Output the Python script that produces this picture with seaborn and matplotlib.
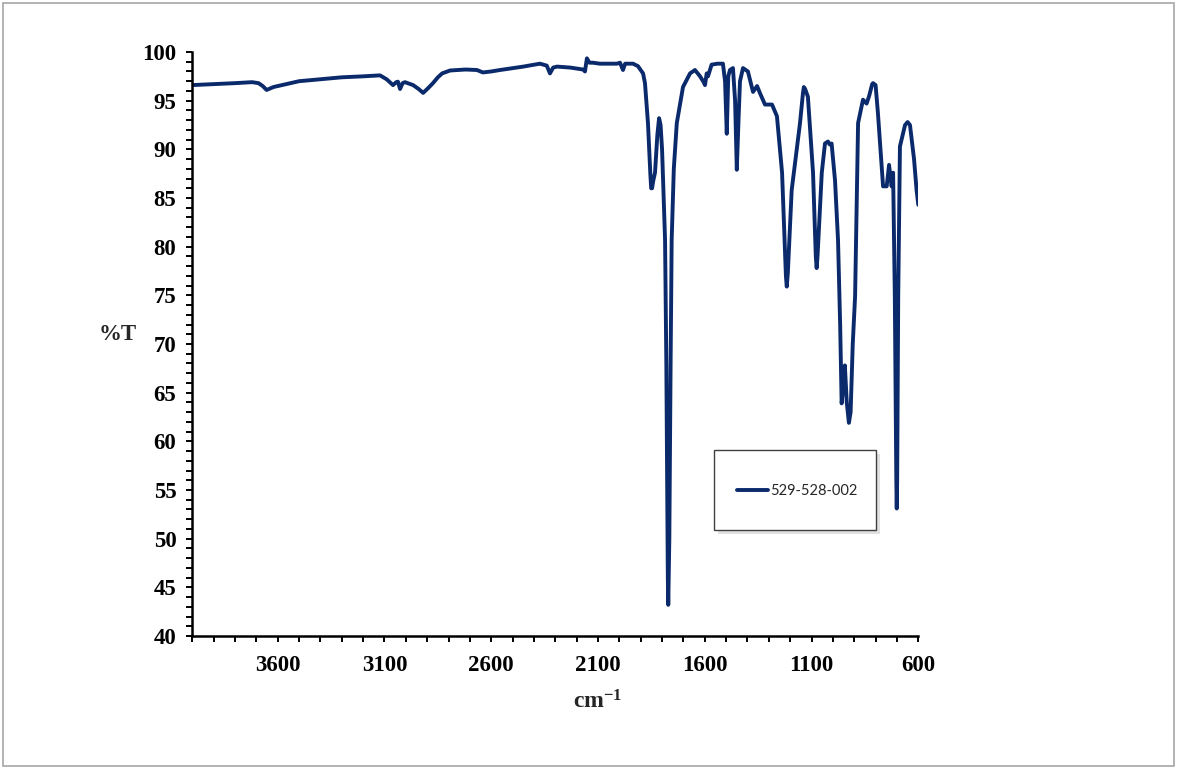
import matplotlib
matplotlib.use("Agg")
import matplotlib.pyplot as plt
from matplotlib.patches import Rectangle
from matplotlib.ticker import MultipleLocator, FixedLocator
import seaborn as sns
import pandas as pd

# ---- data ----
wavenumber = [
    4000, 3900, 3800, 3720, 3690, 3670, 3652, 3620, 3560, 3500, 3400, 3300, 3200, 3121,
    3090, 3060, 3045, 3037, 3027, 3015, 3004, 2966, 2940, 2919, 2895, 2873, 2850, 2830,
    2793, 2720, 2667, 2639, 2600, 2559, 2450, 2372, 2340, 2325, 2310, 2292, 2230, 2170,
    2161, 2152, 2140, 2124, 2091, 2040, 2011, 1997, 1983, 1973, 1936, 1913, 1889, 1880,
    1866, 1855, 1851, 1847, 1841, 1833, 1822, 1814, 1807, 1800, 1786, 1780, 1775, 1773, 1771, 1769, 1766,
    1760, 1755, 1745, 1731, 1702, 1669, 1646, 1622, 1605, 1599, 1591, 1585, 1568, 1540,
    1515, 1505, 1497, 1490, 1482, 1468, 1458, 1450, 1442, 1435, 1421, 1398, 1374, 1355,
    1341, 1318, 1285, 1262, 1238, 1225, 1220, 1216, 1211, 1205, 1193, 1154, 1140, 1136, 1130, 1117, 1093, 1080, 1076,
    1072, 1065, 1052, 1037, 1023, 1015, 1006, 990, 976, 966, 959, 950, 944, 935, 925,
    917, 907, 896, 882, 859, 842, 830, 816, 812, 806, 800, 789, 765, 748, 737, 725,
    718, 710, 703, 701, 699, 694, 686, 662, 650, 639, 620, 608, 600,
]
transmittance = [
    96.6, 96.7, 96.8, 96.9, 96.8, 96.5, 96.1, 96.4, 96.7, 97.0, 97.2, 97.4, 97.5, 97.6,
    97.2, 96.6, 96.9, 96.95, 96.2, 96.8, 96.9, 96.6, 96.2, 95.8, 96.3, 96.8, 97.4, 97.8,
    98.1, 98.2, 98.15, 97.9, 98.0, 98.15, 98.5, 98.8, 98.6, 97.8, 98.4, 98.5, 98.4, 98.2,
    98.0, 99.35, 98.9, 98.9, 98.8, 98.8, 98.8, 98.9, 98.15, 98.8, 98.8, 98.55, 97.8, 96.8,
    92.7, 87.5, 86.0, 86.0, 86.8, 87.6, 91.5, 93.2, 92.5, 90.0, 80.7, 68.0, 52.0, 46.0, 43.2, 45.5, 50.0,
    68.0, 80.7, 88.0, 92.7, 96.4, 97.8, 98.15, 97.5, 96.9, 96.6, 97.8, 97.5, 98.7, 98.8,
    98.8, 97.0, 91.6, 97.5, 98.15, 98.35, 95.0, 87.9, 93.0, 97.0, 98.35, 98.0, 95.9, 96.5,
    95.75, 94.6, 94.6, 93.4, 87.6, 80.0, 77.0, 75.9, 77.3, 80.0, 85.8, 92.7, 95.8, 96.4, 96.2, 95.4, 87.6, 79.0, 77.8,
    79.0, 82.0, 87.6, 90.6, 90.8, 90.5, 90.6, 86.8, 80.7, 72.0, 63.9, 66.0, 67.8, 64.0, 61.9,
    63.0, 70.0, 74.9, 92.7, 95.1, 94.7, 95.5, 96.7, 96.8, 96.7, 96.6, 93.7, 86.2, 86.2, 88.4, 86.2,
    87.6, 75.0, 56.0, 53.1, 56.0, 75.0, 90.3, 92.5, 92.8, 92.5, 89.0, 85.8, 84.3,
]
series_name = "529-528-002"
x_tick_values = [3600, 3100, 2600, 2100, 1600, 1100, 600]
y_tick_values = [40, 45, 50, 55, 60, 65, 70, 75, 80, 85, 90, 95, 100]

# ---- style ----
sns.set_style("ticks")
plt.rcParams["font.family"] = ["Liberation Serif", "DejaVu Serif"]
plt.rcParams["mathtext.fontset"] = "custom"
plt.rcParams["mathtext.bf"] = "Liberation Serif:bold"
plt.rcParams["mathtext.rm"] = "Liberation Serif"

line_color = "#0B2A6B"

fig = plt.figure(figsize=(11.77, 7.69), dpi=100)
W, H = 1177, 769
ax_left, ax_right, ax_top, ax_bottom = 192.3, 918.3, 52, 636
ax = fig.add_axes([ax_left / W, 1 - ax_bottom / H, (ax_right - ax_left) / W, (ax_bottom - ax_top) / H])

df = pd.DataFrame({"cm-1": wavenumber, "%T": transmittance})
sns.lineplot(data=df, x="cm-1", y="%T", ax=ax, color=line_color, linewidth=2.8,
             estimator=None, sort=True, legend=False)
ax.lines[0].set_solid_joinstyle("round")
ax.lines[0].set_solid_capstyle("round")

ax.set_xlim(4000, 600)
ax.set_ylim(40, 100)
ax.xaxis.set_major_locator(FixedLocator(x_tick_values))
ax.xaxis.set_minor_locator(MultipleLocator(100))
ax.yaxis.set_major_locator(FixedLocator(y_tick_values))
ax.yaxis.set_minor_locator(MultipleLocator(1))

for s in ["top", "right"]:
    ax.spines[s].set_visible(False)
for s in ["left", "bottom"]:
    ax.spines[s].set_linewidth(1.8)
    ax.spines[s].set_color("black")

ax.tick_params(axis="both", which="both", direction="out", length=4.5, width=1.4, color="black")
ax.tick_params(axis="y", which="major", pad=7)
ax.tick_params(axis="x", which="major", pad=9)
for lbl in ax.get_xticklabels() + ax.get_yticklabels():
    lbl.set_fontweight("bold")
    lbl.set_fontsize(16.5)
    lbl.set_color("black")

ax.set_xlabel(r"$\mathbf{cm^{-1}}$", fontsize=17)
ax.xaxis.set_label_coords((598 - ax_left) / (ax_right - ax_left), (ax_bottom - 690) / (ax_bottom - ax_top))
ax.set_ylabel("%T", fontsize=16.5, fontweight="bold", rotation=0, ha="center", va="center")
ax.yaxis.set_label_coords((118 - ax_left) / (ax_right - ax_left), (ax_bottom - 335) / (ax_bottom - ax_top))

# legend box with shadow
lx0, ly0, lx1, ly1 = 714, 450, 876, 530
fig.patches.append(Rectangle(((lx0 + 4) / W, 1 - (ly1 + 4) / H), (lx1 - lx0) / W, (ly1 - ly0) / H,
                             transform=fig.transFigure, facecolor="#d9d9d9", edgecolor="none",
                             alpha=0.8, zorder=5))
fig.patches.append(Rectangle((lx0 / W, 1 - ly1 / H), (lx1 - lx0) / W, (ly1 - ly0) / H,
                             transform=fig.transFigure, facecolor="white", edgecolor="#404040",
                             linewidth=1.0, zorder=6))
handle = plt.Line2D([], [], color=line_color, linewidth=2.8)
leg = fig.legend([handle], [series_name], loc="center left",
                 bbox_to_anchor=(737 / W, 1 - 491 / H), frameon=False, borderpad=0,
                 borderaxespad=0, handlelength=2.1, handletextpad=0.15,
                 prop={"family": "Lato", "size": 10.5})
leg.set_zorder(7)

# outer figure border
fig.patches.append(Rectangle((3 / W, 3 / H), 1171 / W, 763 / H, transform=fig.transFigure,
                             facecolor="none", edgecolor="#a6a6a6", linewidth=1.2, zorder=0))

fig.savefig("out.png", dpi=100)
